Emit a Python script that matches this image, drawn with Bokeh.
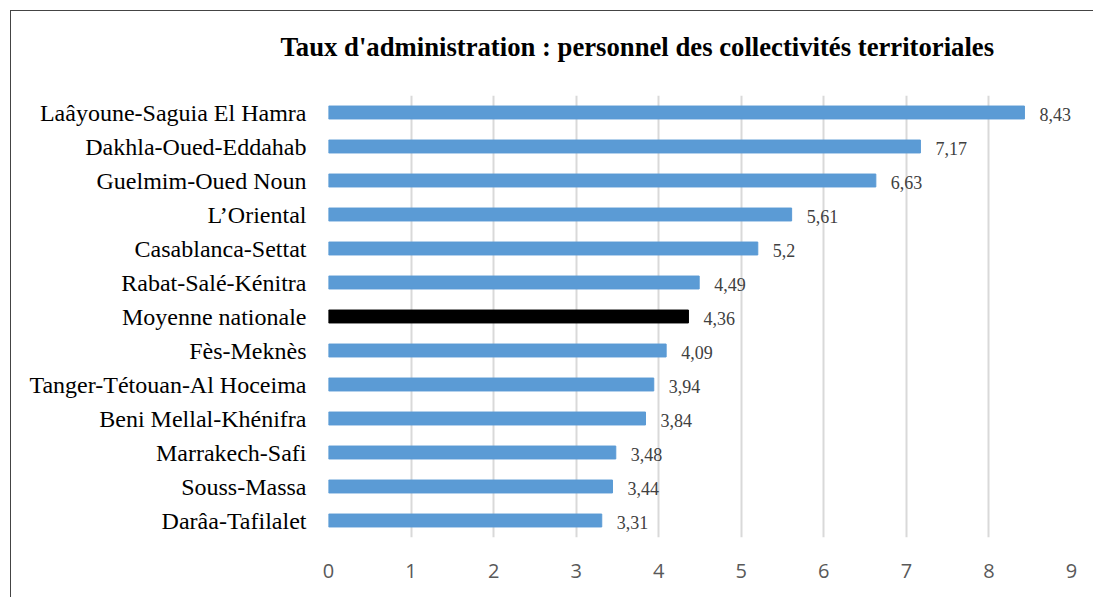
from bokeh.plotting import figure
from bokeh.models import ColumnDataSource, FactorRange, Range1d, LabelSet, FixedTicker
from bokeh.embed import file_html
from bokeh.resources import INLINE

regions = ["Laâyoune-Saguia El Hamra", "Dakhla-Oued-Eddahab", "Guelmim-Oued Noun", "L’Oriental",
           "Casablanca-Settat", "Rabat-Salé-Kénitra", "Moyenne nationale", "Fès-Meknès",
           "Tanger-Tétouan-Al Hoceima", "Beni Mellal-Khénifra", "Marrakech-Safi", "Souss-Massa",
           "Darâa-Tafilalet"]
values = [8.43, 7.17, 6.63, 5.61, 5.2, 4.49, 4.36, 4.09, 3.94, 3.84, 3.48, 3.44, 3.31]
value_labels = ["8,43", "7,17", "6,63", "5,61", "5,2", "4,49", "4,36", "4,09", "3,94", "3,84", "3,48", "3,44", "3,31"]
x_ticks = [0, 1, 2, 3, 4, 5, 6, 7, 8, 9]
title_text = "Taux d'administration : personnel des collectivités territoriales"

colors = ["#000000" if r == "Moyenne nationale" else "#5B9BD5" for r in regions]
src = ColumnDataSource(dict(region=regions, value=values, label=value_labels, color=colors))

p = figure(width=1093, height=597, output_backend="svg", toolbar_location=None,
           y_range=FactorRange(factors=list(reversed(regions)), range_padding=0),
           x_range=Range1d(0, 9),
           min_border_left=328, min_border_right=22, min_border_top=95, min_border_bottom=60)
p.border_fill_color = None
p.background_fill_color = None
p.styles = {
    "background-color": "#ffffff",
    "background-image": "linear-gradient(#444444, #444444), linear-gradient(#444444, #444444)",
    "background-position": "10px 10px, 10px 10px",
    "background-size": "1083px 1px, 1px 587px",
    "background-repeat": "no-repeat",
}

p.hbar(y="region", right="value", left=0, height=0.38, color="color", source=src)

labels = LabelSet(x="value", y="region", text="label", source=src, x_offset=15, y_offset=-2,
                  text_baseline="middle", text_align="left", text_font="Liberation Serif",
                  text_font_size="18px", text_color="#404040")
p.add_layout(labels)

p.title.text = title_text
p.title.text_font = "Liberation Serif"
p.title.text_font_size = "26.7px"
p.title.text_font_style = "bold"
p.title.text_color = "#000000"
p.title.align = "left"
p.title.offset = -48
p.title.vertical_align = "top"
p.title.standoff = 63

p.xaxis.ticker = FixedTicker(ticks=x_ticks)
p.xaxis.axis_line_color = None
p.xaxis.major_tick_line_color = None
p.xaxis.minor_tick_line_color = None
p.xaxis.major_label_text_font = "Open Sans"
p.xaxis.major_label_text_font_size = "20px"
p.xaxis.major_label_text_color = "#595959"
p.xaxis.major_label_standoff = 20

p.yaxis.axis_line_color = None
p.yaxis.major_tick_line_color = None
p.yaxis.minor_tick_line_color = None
p.yaxis.major_label_text_font = "Liberation Serif"
p.yaxis.major_label_text_font_size = "24px"
p.yaxis.major_label_text_color = "#000000"
p.yaxis.major_label_standoff = 16

p.ygrid.grid_line_color = None
p.xgrid.grid_line_color = "#D9D9D9"
p.xgrid.grid_line_width = 2
p.outline_line_color = None

open("out.html", "w").write(file_html(p, INLINE))
